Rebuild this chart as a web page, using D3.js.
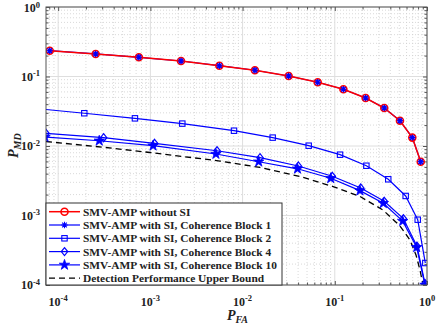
<!DOCTYPE html>
<html><head><meta charset="utf-8">
<script src="https://cdn.jsdelivr.net/npm/d3@7"></script>
<style>body{margin:0;background:#fff}svg{display:block}</style>
</head><body>
<script>
// ---------- data ----------
const xTickExps = ["-4","-3","-2","-1","0"];
const yTickExps = ["-4","-3","-2","-1","0"];
const xTickVals = [1e-4,1e-3,1e-2,1e-1,1];
const yTickVals = [1e-4,1e-3,1e-2,1e-1,1];

const pfaNoSI = [8.1e-5,2.55e-4,7.5e-4,2.15e-3,5.6e-3,0.0136,0.0316,0.0653,0.124,0.216,0.344,0.509,0.693,0.855];
const pmdNoSI = [0.235,0.211,0.189,0.167,0.143,0.123,0.1016,0.0826,0.0655,0.049,0.0352,0.0231,0.0132,0.00594];

const pfaB1 = [8.1e-5,2.55e-4,7.5e-4,2.15e-3,5.6e-3,0.0136,0.0316,0.0653,0.124,0.216,0.344,0.509,0.693,0.855];
const pmdB1 = [0.235,0.211,0.189,0.167,0.143,0.123,0.1016,0.0826,0.0655,0.049,0.0352,0.0231,0.0132,0.00594];

const pfaB2 = [5.07e-5,1.92e-4,6.8e-4,2.22e-3,8.07e-3,0.0212,0.0521,0.114,0.22,0.38,0.587,0.793,0.959];
const pmdB2 = [0.0352,0.0296,0.0250,0.0210,0.0166,0.0132,0.0101,0.0075,0.0052,0.00332,0.00191,8.7e-4,2.07e-4];

const pfaB4 = [7.38e-5,3.11e-4,1.11e-3,5.28e-3,0.01545,0.0402,0.094,0.191,0.344,0.554,0.78,0.951];
const pmdB4 = [0.01524,0.01316,0.01094,0.00855,0.00679,0.00516,0.00367,0.00249,0.0016,9.0e-4,3.6e-4,1.05e-4];

const pfaB10 = [7.2e-5,2.79e-4,1.07e-3,5.14e-3,0.01496,0.0394,0.0903,0.1876,0.336,0.545,0.773,0.951];
const pmdB10 = [0.01346,0.0119,0.0101,0.00767,0.00594,0.0047,0.00343,0.00228,0.0015,8.3e-4,3.49e-4,1.0e-4];

const pfaBound = [7.38e-5,3.14e-4,9.9e-4,5.69e-3,0.01545,0.042,0.0958,0.1876,0.333,0.509,0.654,0.76,0.84,0.905];
const pmdBound = [0.0116,0.00957,0.00806,0.00608,0.00491,0.00364,0.00261,0.00188,0.0012,7.06e-4,4.44e-4,2.7e-4,1.64e-4,1.0e-4];

const legendLabels = ["SMV-AMP without SI","SMV-AMP with SI, Coherence Block 1","SMV-AMP with SI, Coherence Block 2","SMV-AMP with SI, Coherence Block 4","SMV-AMP with SI, Coherence Block 10","Detection Performance Upper Bound"];

// ---------- layout ----------
const W=436,H=327;
const L=46,R=427,T=7,B=285;
const FONT="'Liberation Serif','Times New Roman',serif";
const svg=d3.select("body").append("svg").attr("width",W).attr("height",H);

const x=d3.scaleLog().domain([Math.pow(10,-4.132),1]).range([L,R]);
const y=d3.scaleLog().domain([1e-4,1]).range([B,T]);

// minor values
const minors=(lo,hi)=>{const a=[];for(let e=-5;e<=0;e++)for(let m=2;m<=9;m++){const v=m*Math.pow(10,e);if(v>=lo&&v<=hi)a.push(v);}return a;};
const xMin=minors(x.domain()[0],1), yMin=minors(1e-4,1);

// grid
const g=svg.append("g");
g.selectAll(".xmg").data(xMin).join("line").attr("x1",d=>x(d)).attr("x2",d=>x(d)).attr("y1",T).attr("y2",B)
 .attr("stroke","#cfcfcf").attr("stroke-width",0.8).attr("stroke-dasharray","1,2");
g.selectAll(".ymg").data(yMin).join("line").attr("y1",d=>y(d)).attr("y2",d=>y(d)).attr("x1",L).attr("x2",R)
 .attr("stroke","#cfcfcf").attr("stroke-width",0.8).attr("stroke-dasharray","1,2");
g.selectAll(".xg").data(xTickVals).join("line").attr("x1",d=>x(d)).attr("x2",d=>x(d)).attr("y1",T).attr("y2",B)
 .attr("stroke","#dedede").attr("stroke-width",1);
g.selectAll(".yg").data(yTickVals).join("line").attr("y1",d=>y(d)).attr("y2",d=>y(d)).attr("x1",L).attr("x2",R)
 .attr("stroke","#dedede").attr("stroke-width",1);

// axes with inward ticks on all sides
const axCol="#555";
function mkAxis(axisFn, scale, vals, size, transform){
  const a=svg.append("g").attr("transform",transform)
    .call(axisFn(scale).tickValues(vals).tickSize(size).tickFormat(""));
  a.select(".domain").remove();
  a.selectAll("line").attr("stroke",axCol);
}
mkAxis(d3.axisBottom,x,xTickVals,-4,`translate(0,${B})`);
mkAxis(d3.axisBottom,x,xMin,-2.5,`translate(0,${B})`);
mkAxis(d3.axisTop,x,xTickVals,-4,`translate(0,${T})`);
mkAxis(d3.axisTop,x,xMin,-2.5,`translate(0,${T})`);
mkAxis(d3.axisLeft,y,yTickVals,-4,`translate(${L},0)`);
mkAxis(d3.axisLeft,y,yMin,-2.5,`translate(${L},0)`);
mkAxis(d3.axisRight,y,yTickVals,-4,`translate(${R},0)`);
mkAxis(d3.axisRight,y,yMin,-2.5,`translate(${R},0)`);

// tick labels
const xl=svg.append("g").attr("font-family",FONT).attr("font-weight","bold").attr("font-size","12px").attr("fill","#222");
xTickVals.forEach((v,i)=>{
  const t=xl.append("text").attr("x",x(v)).attr("y",306).attr("text-anchor","middle");
  t.append("tspan").text("10");
  t.append("tspan").attr("dy","-5").attr("font-size","8.5px").text(xTickExps[i]);
});
yTickVals.forEach((v,i)=>{
  const t=xl.append("text").attr("x",40).attr("y",Math.max(y(v)+4,12)).attr("text-anchor","end");
  t.append("tspan").text("10");
  t.append("tspan").attr("dy","-4.5").attr("font-size","8.5px").text(yTickExps[i]);
});

// axis titles
const xt=svg.append("text").attr("x",227).attr("y",320).attr("font-family",FONT).attr("font-weight","bold").attr("font-style","italic").attr("font-size","14px").attr("fill","#222");
xt.append("tspan").text("P");
xt.append("tspan").attr("dy","3").attr("font-size","10px").text("FA");
const yt=svg.append("text").attr("transform","translate(18,158) rotate(-90)").attr("font-family",FONT).attr("font-weight","bold").attr("font-style","italic").attr("font-size","14px").attr("fill","#222");
yt.append("tspan").text("P");
yt.append("tspan").attr("dy","3").attr("font-size","10px").text("MD");

// clip
svg.append("clipPath").attr("id","clip").append("rect").attr("x",L).attr("y",T).attr("width",R-L).attr("height",B-T);
const plot=svg.append("g").attr("clip-path","url(#clip)");
const line=d3.line().x(d=>x(d[0])).y(d=>y(d[1]));
const zip=(a,b)=>a.map((v,i)=>[v,b[i]]);

const BLUE="#0000ff", RED="#ff0000";
// marker drawers
function asterisk(sel,col){const s=3.2;
  sel.append("path").attr("d",`M${-s},0H${s}M0,${-s}V${s}M${-s*0.72},${-s*0.72}L${s*0.72},${s*0.72}M${-s*0.72},${s*0.72}L${s*0.72},${-s*0.72}`)
   .attr("stroke",col).attr("stroke-width",1.1).attr("fill","none");}
function circ(sel,col){sel.append("circle").attr("r",3.5).attr("fill","none").attr("stroke",col).attr("stroke-width",1.6);}
function square(sel,col){sel.append("rect").attr("x",-2.7).attr("y",-2.7).attr("width",5.4).attr("height",5.4).attr("fill","none").attr("stroke",col).attr("stroke-width",1.1);}
function diamond(sel,col){sel.append("path").attr("d","M0,-4L3.2,0L0,4L-3.2,0Z").attr("fill","none").attr("stroke",col).attr("stroke-width",1.2);}
const starPath=d3.symbol().type(d3.symbolStar).size(34)();
function star(sel,col){sel.append("path").attr("d",starPath).attr("fill",col).attr("stroke",col).attr("stroke-width",0.8);}

function series(pfa,pmd,col,marker,lw,dash){
  const data=zip(pfa,pmd);
  const p=plot.append("path").datum(data).attr("d",line).attr("fill","none").attr("stroke",col).attr("stroke-width",lw);
  if(dash)p.attr("stroke-dasharray",dash);
  if(marker){
    plot.append("g").selectAll("g").data(data).join("g").attr("transform",d=>`translate(${x(d[0])},${y(d[1])})`).each(function(){marker(d3.select(this),col);});
  }
}
series(pfaBound,pmdBound,"#000",null,1.3,"6,4");
series(pfaB10,pmdB10,BLUE,star,1.2);
series(pfaB4,pmdB4,BLUE,diamond,1.2);
series(pfaB2,pmdB2,BLUE,square,1.2);
series(pfaB1,pmdB1,BLUE,asterisk,1.2);
series(pfaNoSI,pmdNoSI,RED,circ,1.5);
// redraw asterisks on top of red line markers
plot.append("g").selectAll("g").data(zip(pfaB1,pmdB1)).join("g").attr("transform",d=>`translate(${x(d[0])},${y(d[1])})`).each(function(){asterisk(d3.select(this),BLUE);});

// axes box
svg.append("rect").attr("x",L).attr("y",T).attr("width",R-L).attr("height",B-T).attr("fill","none").attr("stroke",axCol).attr("stroke-width",1);

// legend
const lg=svg.append("g");
const lx=L, ly=203, lw=282-L, lh=B-203;
lg.append("rect").attr("x",lx).attr("y",ly).attr("width",lw).attr("height",lh).attr("fill","#fff").attr("stroke","#333").attr("stroke-width",1);
const legendCols=[RED,BLUE,BLUE,BLUE,BLUE,"#000"];
const legendMarkers=[circ,asterisk,square,diamond,star,null];
const rowY=d3.range(6).map(i=>211.7+i*13.3);
legendLabels.forEach((lab,i)=>{
  const yy=rowY[i];
  const l=lg.append("line").attr("x1",49).attr("x2",80).attr("y1",yy).attr("y2",yy).attr("stroke",legendCols[i]).attr("stroke-width",i===0?1.5:1.2);
  if(i===5)l.attr("stroke-dasharray","6,4");
  if(legendMarkers[i]){legendMarkers[i](lg.append("g").attr("transform",`translate(64.5,${yy})`),legendCols[i]);}
  lg.append("text").attr("x",83).attr("y",yy+4).attr("font-family",FONT).attr("font-weight","bold").attr("font-size","11.4px").attr("fill","#222").text(lab);
});
</script>
</body></html>
